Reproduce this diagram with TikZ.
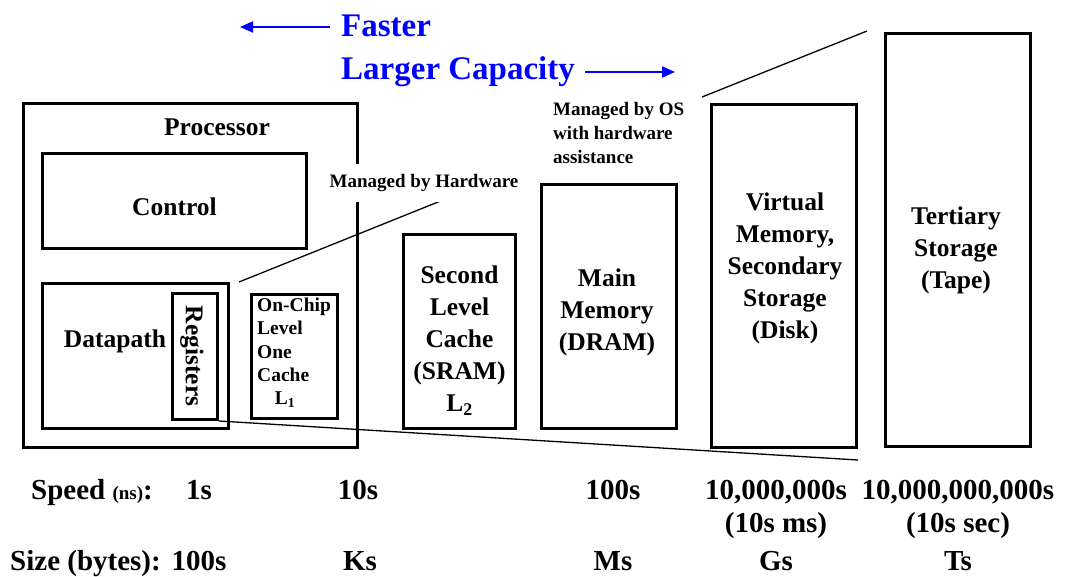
\documentclass[tikz,border=0pt]{standalone}
\usepackage{fontspec}
\setmainfont{Liberation Serif}
\usetikzlibrary{arrows.meta}
\definecolor{capblue}{RGB}{0,0,255}

\begin{document}
\begin{tikzpicture}[x=1pt,y=-1pt,
  box/.style={draw, line width=3pt, inner sep=0pt},
  lbl/.style={font=\fontsize{25.5}{32}\selectfont\bfseries, align=center, inner sep=0pt},
  small/.style={font=\fontsize{19}{24}\selectfont\bfseries, inner sep=0pt},
  tiny/.style={font=\fontsize{19.5}{23.3}\selectfont\bfseries, align=left, inner sep=0pt},
  rowtxt/.style={font=\fontsize{29}{34}\selectfont\bfseries, anchor=base, inner sep=0pt},
  head/.style={font=\fontsize{33}{38}\selectfont\bfseries, text=capblue, anchor=base west, inner sep=0pt},
  dir/.style={draw=capblue, line width=2pt, -{Triangle[length=13pt,width=11pt]}},
  thin/.style={line width=1.3pt}]
\useasboundingbox (0,0) rectangle (1065,576);

% direction captions
\node[head] (fast) at (341,36) {Faster};
\node[head] (cap) at (341,79) {Larger Capacity};
\coordinate (fastend) at (240,27);
\coordinate (capend) at (675,72);
\draw[dir] ([xshift=-11pt]fast.west |- fastend) -- (fastend);
\draw[dir] ([xshift=10pt]cap.east |- capend) -- (capend);

% processor and its parts
\node[box, minimum width=334pt, minimum height=344pt] (proc) at (190.5,275.5) {};
\node[lbl] (proct) at (217,127) {Processor};
\node[box, minimum width=264pt, minimum height=95pt] (ctrl) at (174.5,201) {};
\node[lbl] at (ctrl.center) [yshift=-6pt] {Control};
\node[box, minimum width=186pt, minimum height=145pt] (dp) at (135.5,356) {};
\node[lbl] (dpt) at (115,341) {Datapath};
\node[box, minimum width=45pt, minimum height=126pt] (reg) at (195,356.5) {};
\node[lbl, rotate=-90] at (192,356) {Registers};
\node[box, minimum width=86pt, minimum height=124pt] (l1) at (294.5,356.5) {};
\node[tiny, anchor=west] at (257,353) {On-Chip\\Level\\One\\Cache\\\hspace*{0.9em}L\textsubscript{1}};

% memory levels
\node[box, minimum width=112pt, minimum height=194pt] (l2) at (459.5,331.5) {};
\node[lbl] at (459.5,341) {Second\\Level\\Cache\\(SRAM)\\L\textsubscript{2}};
\node[box, minimum width=135pt, minimum height=244pt] (mm) at (609,306.5) {};
\node[lbl] at (607,312) {Main\\Memory\\(DRAM)};
\node[box, minimum width=145pt, minimum height=343pt] (virt) at (784,276) {};
\node[lbl] at (785,268) {Virtual\\Memory,\\Secondary\\Storage\\(Disk)};
\node[box, minimum width=145pt, minimum height=413pt] (tert) at (958,240) {};
\node[lbl] at (956,250) {Tertiary\\Storage\\(Tape)};

% zoom lines
\coordinate (hwtop) at (448,198);
\draw[thin] ([xshift=9pt]dp.north east) -- (hwtop);
\draw[thin] (reg.south east) -- ([yshift=-11pt]virt.south east);
\draw[thin] ([xshift=-8pt,yshift=6pt]virt.north west) -- ([xshift=-17pt,yshift=1pt]tert.north west);

% management notes
\node[small, fill=white, inner xsep=2pt, inner ysep=10pt] (hw) at (424,183) {Managed by Hardware};
\node[small, anchor=west, align=left] (os) at (553,133) {Managed by OS\\with hardware\\assistance};

% speed and size rows
\node[rowtxt, anchor=base west] (spd) at (31,499) {Speed {\fontsize{19}{22}\selectfont(ns)}:};
\node[rowtxt] (s1) at (199,499) {1s};
\node[rowtxt] (s2) at (358,499) {10s};
\node[rowtxt] (s3) at (613,499) {100s};
\node[rowtxt] (s4) at (776,499) {10,000,000s};
\node[rowtxt] (s5) at (958,499) {10,000,000,000s};
\node[rowtxt] (s4b) at (776,532) {(10s ms)};
\node[rowtxt] (s5b) at (958,532) {(10s sec)};
\node[rowtxt, anchor=base west] (sz) at (10,570) {Size (bytes):};
\node[rowtxt] (z1) at (199,570) {100s};
\node[rowtxt] (z2) at (360,570) {Ks};
\node[rowtxt] (z3) at (613,570) {Ms};
\node[rowtxt] (z4) at (776,570) {Gs};
\node[rowtxt] (z5) at (958,570) {Ts};
\end{tikzpicture}
\end{document}
